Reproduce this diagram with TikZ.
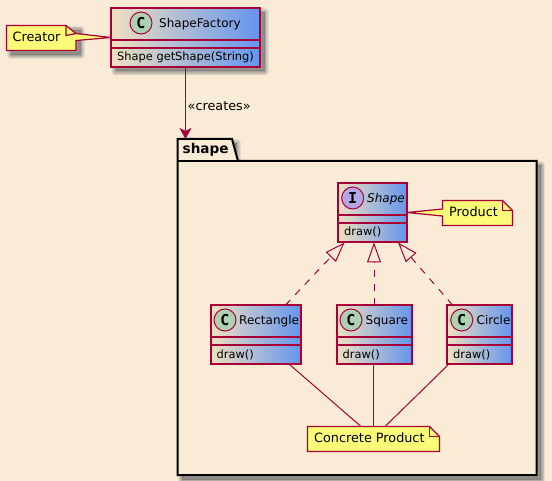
\documentclass[tikz,border=0pt]{standalone}
\usepackage{fontspec}
\setmainfont{DejaVu Sans}
\setmonofont{DejaVu Sans Mono}
\usetikzlibrary{arrows.meta,calc}
\definecolor{bgc}{RGB}{250,235,215}
\definecolor{tanc}{HTML}{F0E0C0}
\definecolor{edgec}{HTML}{A80036}
\definecolor{blueend}{HTML}{6495ED}
\definecolor{notec}{HTML}{FBFB77}
\definecolor{spotc}{HTML}{ADD1B2}
\definecolor{spoti}{HTML}{B4A7E5}
\newcommand{\softshadow}[2][4.5]{%
  \foreach \w in {8,6.5,5,3.5,2,0.5}{%
    \path[draw=black!55,fill=black!55,draw opacity=.14,fill opacity=.14,line width=\w pt,line join=round]
      ($(#2.north west)+(#1,#1)$) rectangle ($(#2.south east)+(#1,#1)$);}}
\tikzset{
  classbox/.style={rectangle,draw=edgec,line width=2pt,left color=tanc,right color=blueend,
    inner sep=0pt,outer sep=0pt,anchor=north west},
  compline/.style={color=edgec,line width=2pt},
  spot/.style={circle,draw=edgec,line width=1pt,minimum size=22pt,inner sep=0pt,
    font=\fontsize{15}{15}\bfseries\ttfamily},
  cname/.style={anchor=base west,inner sep=0pt,font=\fontsize{12}{13}\selectfont},
  member/.style={anchor=base west,inner sep=0pt,font=\fontsize{11.4}{12}\selectfont},
  notebox/.style={rectangle,inner sep=0pt,outer sep=0pt,anchor=north west},
  noteline/.style={draw=edgec,line width=1.2pt,fill=notec,line join=miter},
  notetext/.style={anchor=base west,inner sep=0pt,font=\fontsize{12.8}{13}\selectfont},
  link/.style={draw=edgec,line width=1pt},
  inherit/.style={draw=edgec,line width=1pt,dash pattern=on 7pt off 7pt,
    -{Triangle[open,length=20pt,width=14pt,line width=1pt]}},
}
\begin{document}
\begin{tikzpicture}[x=1pt,y=-1pt]
\useasboundingbox[fill=bgc] (0,0) rectangle (552,481);

% invisible geometry
\node[notebox,minimum width=359pt,minimum height=314pt] (pkg) at (177.5,161) {};
\node[notebox,minimum width=149pt,minimum height=59pt] (sf) at (111,8) {};
\node[notebox,minimum width=69pt,minimum height=59pt] (shp) at (338,183) {};
\node[notebox,minimum width=90pt,minimum height=59pt] (rct) at (211,305) {};
\node[notebox,minimum width=75pt,minimum height=59pt] (sqr) at (337,305) {};
\node[notebox,minimum width=65pt,minimum height=59pt] (cir) at (447,305) {};
\node[notebox,minimum width=69.5pt,minimum height=25pt] (ncr) at (6.5,25.5) {};
\node[notebox,minimum width=70pt,minimum height=25pt] (npr) at (442.5,200.5) {};
\node[notebox,minimum width=132pt,minimum height=25pt] (ncp) at (307.5,426.5) {};
\node[notebox,minimum width=54.5pt,minimum height=22pt] (tab) at (177.5,139) {};

% shadows
\softshadow{pkg}
\softshadow{tab}
\softshadow{ncr}
\softshadow{npr}
\softshadow{ncp}
\softshadow{sf}
\softshadow{shp}
\softshadow{rct}
\softshadow{sqr}
\softshadow{cir}

% package
\draw[draw=black,line width=2pt,fill=bgc,line join=miter]
  (pkg.north west) -- (tab.north west) -- (tab.north east) -- ($(tab.south east)+(6,0)$) -- (pkg.north east)
  -- (pkg.south east) -- (pkg.south west) -- cycle;
\draw[black,line width=1.5pt] (pkg.north west) -- ($(tab.south east)+(6,0)$);
\node[anchor=base west,inner sep=0pt,font=\fontsize{13.6}{14}\bfseries] (pkglabel) at (182.5,154) {shape};

% connectors
\draw[link,-{Stealth[length=11pt,width=12pt,inset=3pt]}] ($(sf.south west)+(74.5,0)$) -- ($(tab.north west)+(8,0)$);
\node[anchor=base west,inner sep=0pt,font=\fontsize{12.8}{13}\selectfont] (crt) at (187.5,110.5) {«creates»};

\draw[inherit] ($(rct.north west)+(74.5,0)$) -- ($(shp.south west)+(6.5,0.5)$);
\draw[inherit] ($(sqr.north west)+(37,0)$) -- ($(shp.south west)+(36,0.5)$);
\draw[inherit] ($(cir.north west)+(5.5,0)$) -- ($(shp.south east)+(-9,0.5)$);

\draw[link] ($(rct.south west)+(78,0)$) -- ($(ncp.north west)+(53.5,0)$);
\draw[link] ($(sqr.south west)+(36.5,0)$) -- ($(ncp.north west)+(66,0)$);
\draw[link] ($(cir.south west)+(2,0)$) -- ($(ncp.north west)+(77.5,0)$);

% classes
\node[classbox,minimum width=149pt,minimum height=59pt] (sfb) at (sf.north west) {};
\draw[compline] ($(sf.north west)+(0,32)$) -- ($(sf.north east)+(0,32)$);
\draw[compline] ($(sf.north west)+(0,40)$) -- ($(sf.north east)+(0,40)$);
\node[spot,fill=spotc] (sfs) at (141,23) {C};
\node[cname] (sft) at (159,28) {ShapeFactory};
\node[member] (sfm) at (117,61) {Shape getShape(String)};

\node[classbox,minimum width=69pt,minimum height=59pt] (shpb) at (shp.north west) {};
\draw[compline] ($(shp.north west)+(0,32)$) -- ($(shp.north east)+(0,32)$);
\draw[compline] ($(shp.north west)+(0,40)$) -- ($(shp.north east)+(0,40)$);
\node[spot,fill=spoti] (shps) at (352.7,198) {I};
\node[cname,font=\fontsize{12}{13}\itshape] (shpt) at (367,203) {Shape};
\node[member] (shpm) at (344,236) {draw()};

\node[classbox,minimum width=90pt,minimum height=59pt] (rctb) at (rct.north west) {};
\draw[compline] ($(rct.north west)+(0,32)$) -- ($(rct.north east)+(0,32)$);
\draw[compline] ($(rct.north west)+(0,40)$) -- ($(rct.north east)+(0,40)$);
\node[spot,fill=spotc] (rcts) at (225,320) {C};
\node[cname] (rctt) at (239,325) {Rectangle};
\node[member] (rctm) at (216.5,358) {draw()};

\node[classbox,minimum width=75pt,minimum height=59pt] (sqrb) at (sqr.north west) {};
\draw[compline] ($(sqr.north west)+(0,32)$) -- ($(sqr.north east)+(0,32)$);
\draw[compline] ($(sqr.north west)+(0,40)$) -- ($(sqr.north east)+(0,40)$);
\node[spot,fill=spotc] (sqrs) at (351,320) {C};
\node[cname] (sqrt) at (365.5,325) {Square};
\node[member] (sqrm) at (342.5,358) {draw()};

\node[classbox,minimum width=65pt,minimum height=59pt] (cirb) at (cir.north west) {};
\draw[compline] ($(cir.north west)+(0,32)$) -- ($(cir.north east)+(0,32)$);
\draw[compline] ($(cir.north west)+(0,40)$) -- ($(cir.north east)+(0,40)$);
\node[spot,fill=spotc] (cirs) at (461.7,320) {C};
\node[cname] (cirt) at (476.5,325) {Circle};
\node[member] (cirm) at (453,358) {draw()};

% notes
\path[noteline] (ncr.north west) -- ($(ncr.north east)+(-10,0)$) -- ($(ncr.north east)+(0,8)$)
  -- ($(sf.north west)+(0,29.5)$) -- ($(ncr.north east)+(0,15)$)
  -- (ncr.south east) -- (ncr.south west) -- cycle;
\draw[edgec,line width=1.2pt] ($(ncr.north east)+(-10,0)$) -- ($(ncr.north east)+(-10,10)$) -- ($(ncr.north east)+(0,8)$);
\node[notetext] (ncrt) at (12.5,42) {Creator};

\path[noteline] (npr.north west) -- ($(npr.north east)+(-10,0)$) -- ($(npr.north east)+(0,10)$)
  -- (npr.south east) -- (npr.south west) -- ($(npr.north west)+(0,15.5)$)
  -- ($(shp.north east)+(0,29.5)$) -- ($(npr.north west)+(0,8.5)$) -- cycle;
\draw[edgec,line width=1.2pt] ($(npr.north east)+(-10,0)$) -- ($(npr.north east)+(-10,10)$) -- ($(npr.north east)+(0,10)$);
\node[notetext] (nprt) at (449,217) {Product};

\path[noteline] (ncp.north west) -- ($(ncp.north east)+(-10,0)$) -- ($(ncp.north east)+(0,10)$)
  -- (ncp.south east) -- (ncp.south west) -- cycle;
\draw[edgec,line width=1.2pt] ($(ncp.north east)+(-10,0)$) -- ($(ncp.north east)+(-10,10)$) -- ($(ncp.north east)+(0,10)$);
\node[notetext] (ncpt) at (314,442.5) {Concrete Product};
\end{tikzpicture}
\end{document}
